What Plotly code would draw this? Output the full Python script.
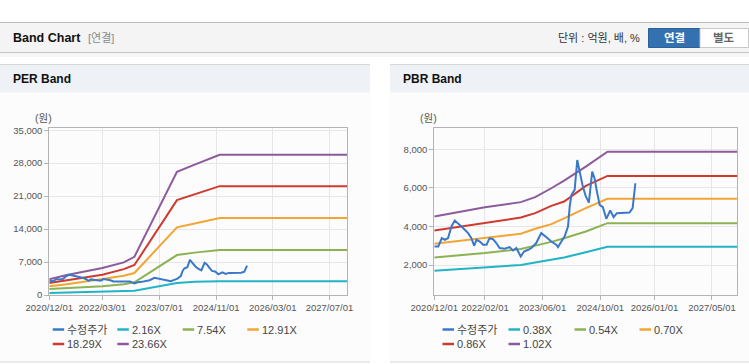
import plotly.graph_objects as go

# ---------------- data ----------------
price_dates = ["2020-12-01", "2021-01-04", "2021-02-02", "2021-03-01", "2021-03-27", "2021-04-25",
               "2021-05-22", "2021-06-20", "2021-07-18", "2021-08-15", "2021-09-12", "2021-10-10",
               "2021-11-02", "2021-11-22", "2021-12-20", "2022-01-17", "2022-02-15", "2022-03-12",
               "2022-04-10", "2022-05-08", "2022-06-05", "2022-07-17", "2022-08-28", "2022-09-26",
               "2022-10-24", "2022-11-30", "2022-12-28", "2023-02-01", "2023-02-28", "2023-04-10",
               "2023-05-22", "2023-07-03", "2023-08-15", "2023-09-26", "2023-10-10", "2023-11-08",
               "2023-12-05", "2024-01-03", "2024-01-17", "2024-02-01", "2024-02-28", "2024-03-21",
               "2024-04-10", "2024-05-07", "2024-05-30", "2024-06-27", "2024-07-25", "2024-08-14",
               "2024-09-03", "2024-09-26", "2024-10-23", "2024-11-21", "2024-12-24", "2025-01-22",
               "2025-02-18", "2025-06-04", "2025-07-01", "2025-07-16", "2025-07-24"]
price_values = [2960, 2962, 3396, 3310, 3396, 3998,
                4306, 4172, 3998, 3826, 3655, 3396,
                2998, 3310, 3220, 3050, 3050, 3396,
                3340, 3138, 2880, 2843, 2930, 2755,
                2880, 2445, 2703, 2790, 2880, 3138,
                3655, 3448, 3220, 3050, 2930, 3220,
                3480, 3998, 5030, 5636, 5895, 7446,
                6840, 6065, 5600, 5238, 6840, 6500,
                5807, 5120, 5000, 4395, 4824, 4483,
                4690, 4720, 4948, 5636, 6240]

per_dates = ["2020-12-01", "2021-05-01", "2022-03-01", "2022-09-01", "2022-12-01",
             "2023-12-01", "2024-05-01", "2024-12-01", "2027-12-01"]
per_names = ["2.16X", "7.54X", "12.91X", "18.29X", "23.66X"]
per_216 = [425, 520, 700, 820, 910, 2545, 2800, 2900, 2900]
per_754 = [1270, 1450, 1840, 2300, 2690, 8480, 9000, 9545, 9545]
per_1291 = [1840, 2300, 3390, 4100, 4670, 14360, 15200, 16330, 16330]
per_1829 = [2545, 3100, 4310, 5500, 6360, 20150, 21400, 23120, 23120]
per_2366 = [3330, 4240, 5730, 6930, 8120, 26150, 27700, 29760, 29760]

pbr_dates = ["2020-12-01", "2022-02-01", "2022-12-01", "2023-04-01", "2023-08-15",
             "2023-12-01", "2024-06-01", "2024-12-01", "2027-12-01"]
pbr_names = ["0.38X", "0.54X", "0.70X", "0.86X", "1.02X"]
pbr_038 = [1705, 1876, 2000, 2130, 2290, 2393, 2660, 2946, 2946]
pbr_054 = [2393, 2620, 2828, 3000, 3200, 3390, 3740, 4172, 4172]
pbr_070 = [3102, 3396, 3619, 3880, 4120, 4420, 4950, 5430, 5430]
pbr_086 = [3790, 4203, 4462, 4690, 5067, 5290, 6100, 6620, 6620]
pbr_102 = [4514, 5000, 5260, 5517, 5980, 6375, 7100, 7875, 7875]

per_xticks = ["2020-12-01", "2022-03-01", "2023-07-01", "2024-11-01", "2026-03-01", "2027-07-01"]
per_xtext = ["2020/12/01", "2022/03/01", "2023/07/01", "2024/11/01", "2026/03/01", "2027/07/01"]
pbr_xticks = ["2020-12-01", "2022-02-01", "2023-06-01", "2024-10-01", "2026-01-01", "2027-05-01"]
pbr_xtext = ["2020/12/01", "2022/02/01", "2023/06/01", "2024/10/01", "2026/01/01", "2027/05/01"]
per_yticks = [0, 7000, 14000, 21000, 28000, 35000]
pbr_yticks = [2000, 4000, 6000, 8000]

price_name = "수정주가"
colors = ["#3a78c9", "#22b3c7", "#8cb253", "#f2a533", "#cf3a2e", "#8d5a9c"]

W, H = 749, 364
FONT = "Liberation Sans, Arial, Noto Sans CJK KR, sans-serif"

def px(x):
    return x / W

def py(y):
    return 1 - y / H

fig = go.Figure()

per_bands = [per_216, per_754, per_1291, per_1829, per_2366]
pbr_bands = [pbr_038, pbr_054, pbr_070, pbr_086, pbr_102]

for i, (nm, vals) in enumerate(zip(per_names, per_bands)):
    fig.add_trace(go.Scatter(x=per_dates, y=vals, name=nm, mode="lines",
                             line=dict(color=colors[i + 1], width=2), xaxis="x", yaxis="y",
                             showlegend=False, hoverinfo="skip"))
fig.add_trace(go.Scatter(x=price_dates, y=price_values, name=price_name, mode="lines",
                         line=dict(color=colors[0], width=2), xaxis="x", yaxis="y",
                         showlegend=False, hoverinfo="skip"))
for i, (nm, vals) in enumerate(zip(pbr_names, pbr_bands)):
    fig.add_trace(go.Scatter(x=pbr_dates, y=vals, name=nm, mode="lines",
                             line=dict(color=colors[i + 1], width=2), xaxis="x2", yaxis="y2",
                             showlegend=False, hoverinfo="skip"))
fig.add_trace(go.Scatter(x=price_dates, y=price_values, name=price_name, mode="lines",
                         line=dict(color=colors[0], width=2), xaxis="x2", yaxis="y2",
                         showlegend=False, hoverinfo="skip"))

axis_common = dict(showline=True, mirror=True, linecolor="#b4b4b4", linewidth=1,
                   showgrid=True, gridcolor="#e6e6e6", gridwidth=1, zeroline=False,
                   ticks="outside", ticklen=4, tickcolor="#b4b4b4", automargin=False,
                   tickangle=0,
                   tickfont=dict(family=FONT, size=9.5, color="#555555"))

ydom = [py(295), py(128.3)]
fig.update_layout(
    width=W, height=H, autosize=False,
    margin=dict(l=0, r=0, t=0, b=0, pad=0, autoexpand=False),
    paper_bgcolor="#ffffff", plot_bgcolor="rgba(0,0,0,0)",
    showlegend=False,
    xaxis=dict(domain=[px(49.3), px(347.3)], type="date", range=["2020-12-01", "2027-12-01"],
               tickmode="array", tickvals=per_xticks, ticktext=per_xtext, anchor="y", **axis_common),
    yaxis=dict(domain=ydom, range=[0, 35400], tickmode="array", tickvals=per_yticks,
               tickformat=",", anchor="x", **axis_common),
    xaxis2=dict(domain=[px(434.3), px(737.3)], type="date", range=["2020-12-01", "2027-12-01"],
                tickmode="array", tickvals=pbr_xticks, ticktext=pbr_xtext, anchor="y2", **axis_common),
    yaxis2=dict(domain=ydom, range=[446, 9088], tickmode="array", tickvals=pbr_yticks,
                tickformat=",", anchor="x2", **axis_common),
)

shapes = []
def rect(x0, y0, x1, y1, fill, line=None, lw=0, layer="below"):
    shapes.append(dict(type="rect", xref="paper", yref="paper", x0=px(x0), x1=px(x1),
                       y0=py(y1), y1=py(y0), fillcolor=fill,
                       line=dict(color=line or "rgba(0,0,0,0)", width=lw), layer=layer))

def hline(x0, x1, y, color, w=1, layer="below"):
    shapes.append(dict(type="line", xref="paper", yref="paper", x0=px(x0), x1=px(x1),
                       y0=py(y), y1=py(y), line=dict(color=color, width=w), layer=layer))

# top header bar
rect(0, 22.5, 749, 52.5, "#f4f4f4")
hline(0, 749, 22.5, "#bdbdbd")
hline(0, 749, 52.5, "#c4c4c4")
rect(0, 53, 749, 57, "#f7f7f7")
# panels
for (a, b) in [(0, 370), (390, 749)]:
    rect(a, 64.5, b, 362, "#fcfcfc")
    rect(a, 64.5, b, 92.5, "#eef1f6")
    hline(a, b, 64.5, "#d6d6d6")
    hline(a, b, 362, "#d6d6d6")
# buttons
rect(648.5, 28.5, 700, 47.5, "#3471b0", line="#2a5f98", lw=1)
rect(700, 28.5, 748.5, 47.5, "#ffffff", line="#c8c8c8", lw=1)

annotations = []
def text(x, y, s, size=11, color="#333333", anchor="left", bold=False):
    annotations.append(dict(xref="paper", yref="paper", x=px(x), y=py(y), text=("<b>%s</b>" % s) if bold else s,
                            showarrow=False, xanchor=anchor, yanchor="middle",
                            font=dict(family=FONT, size=size, color=color)))

text(11, 38.5, "Band Chart", size=12.5, color="#111111", bold=True)
text(86, 38.5, "[연결]", size=11, color="#8a8a8a")
text(642, 38.5, "단위 : 억원, 배, %", size=11, color="#333333", anchor="right")
text(674, 38, "연결", size=11.5, color="#ffffff", anchor="center", bold=True)
text(724, 38, "별도", size=11.5, color="#666666", anchor="center", bold=True)
text(11, 79, "PER Band", size=12, color="#111111", bold=True)
text(401, 79, "PBR Band", size=12, color="#111111", bold=True)
text(33, 118, "(원)", size=10.5, color="#555555")
text(418, 118, "(원)", size=10.5, color="#555555")

# manual legends
def legend(xs, rows, names):
    k = 0
    for r, y in enumerate(rows):
        for x in xs:
            if k >= len(names):
                return
            shapes.append(dict(type="line", xref="paper", yref="paper", x0=px(x), x1=px(x + 11.5),
                               y0=py(y), y1=py(y), line=dict(color=colors[k], width=2.5), layer="above"))
            text(x + 12.5, y, names[k], size=11, color="#444444")
            k += 1

legend([52.7, 117.3, 182.7, 247.3], [329.5, 344], [price_name] + per_names)
legend([442.5, 508.5, 574.5, 639.5], [329.5, 344], [price_name] + pbr_names)

fig.update_layout(shapes=shapes, annotations=annotations)
fig.write_html("out.html",
               config=dict(displayModeBar=False),
               post_script="document.body.style.margin='0px';document.body.style.padding='0px';"
                           "document.body.style.overflow='hidden';")
